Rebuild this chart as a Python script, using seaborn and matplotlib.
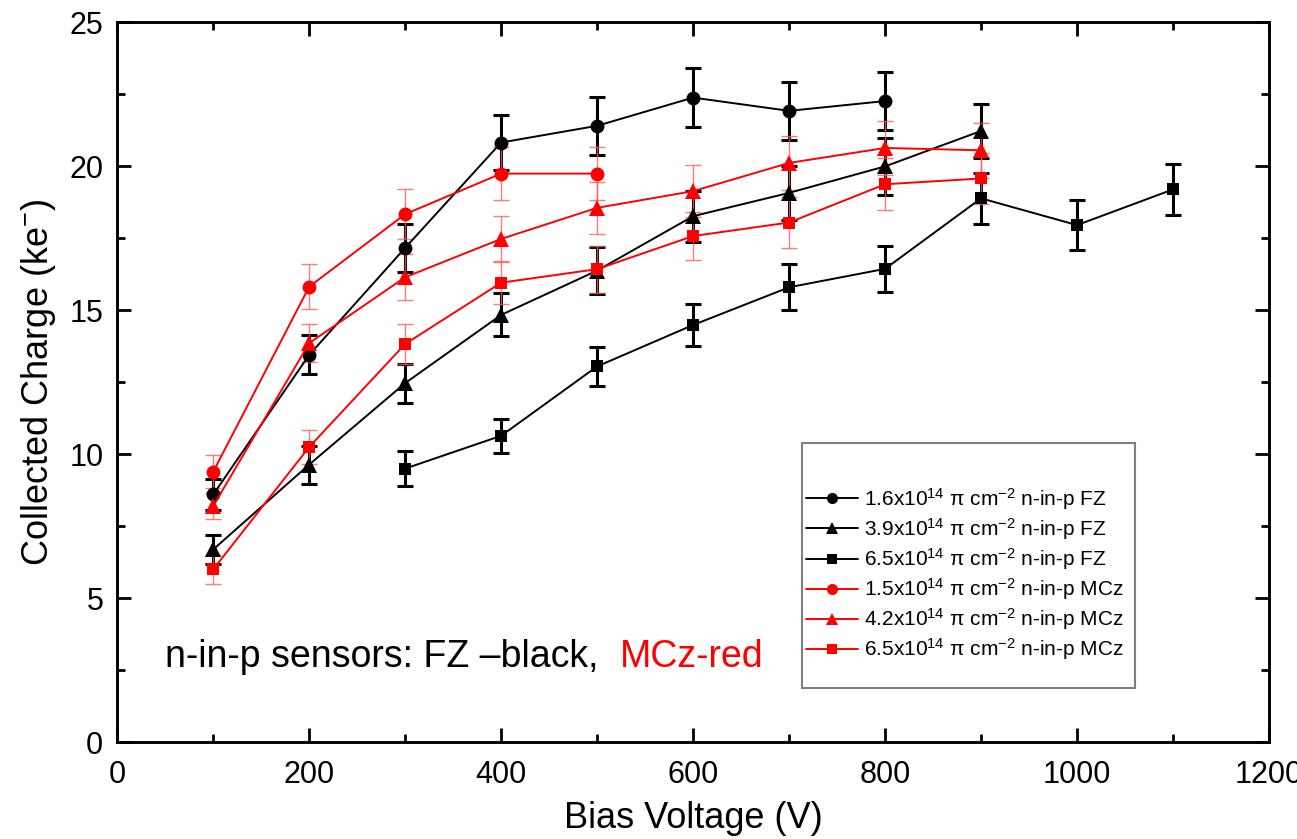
import numpy as np
import pandas as pd
import seaborn as sns
import matplotlib.pyplot as plt
from matplotlib.ticker import MultipleLocator
from matplotlib.patches import Rectangle

# style first, fonts after (set_style resets font.family)
sns.set_style("ticks")
plt.rcParams['font.family'] = ['Liberation Sans', 'DejaVu Sans']
plt.rcParams['mathtext.fontset'] = 'custom'
plt.rcParams['mathtext.rm'] = 'Liberation Sans'
plt.rcParams['mathtext.it'] = 'Liberation Sans:italic'
plt.rcParams['text.color'] = 'black'
plt.rcParams['axes.labelcolor'] = 'black'
plt.rcParams['xtick.color'] = 'black'
plt.rcParams['ytick.color'] = 'black'
plt.rcParams['axes.edgecolor'] = 'black'

# ---- data (bias voltage V, collected charge ke-) ----
volts_fz16 = [100, 200, 300, 400, 500, 600, 700, 800]
charge_fz16 = [8.6, 13.45, 17.17, 20.83, 21.41, 22.39, 21.93, 22.27]
err_fz16 = [0.55, 0.68, 0.83, 0.95, 1.0, 1.02, 1.0, 1.0]

volts_fz39 = [100, 200, 300, 400, 500, 600, 700, 800, 900]
charge_fz39 = [6.69, 9.64, 12.47, 14.84, 16.38, 18.27, 19.08, 20.0, 21.23]
err_fz39 = [0.5, 0.66, 0.68, 0.75, 0.82, 0.88, 0.95, 1.0, 0.95]

volts_fz65 = [300, 400, 500, 600, 700, 800, 900, 1000, 1100]
charge_fz65 = [9.5, 10.64, 13.05, 14.49, 15.8, 16.44, 18.89, 17.96, 19.2]
err_fz65 = [0.6, 0.6, 0.68, 0.74, 0.8, 0.8, 0.88, 0.86, 0.9]

volts_mcz15 = [100, 200, 300, 400, 500]
charge_mcz15 = [9.39, 15.82, 18.34, 19.75, 19.75]
err_mcz15 = [0.57, 0.78, 0.88, 0.93, 0.93]

volts_mcz42 = [100, 200, 300, 400, 500, 600, 700, 800, 900]
charge_mcz42 = [8.2, 13.86, 16.15, 17.48, 18.56, 19.14, 20.12, 20.64, 20.56]
err_mcz42 = [0.45, 0.67, 0.8, 0.8, 0.9, 0.9, 0.95, 0.95, 0.95]

volts_mcz65 = [100, 200, 300, 400, 500, 600, 700, 800, 900]
charge_mcz65 = [6.0, 10.25, 13.83, 15.96, 16.43, 17.58, 18.05, 19.38, 19.58]
err_mcz65 = [0.5, 0.6, 0.7, 0.75, 0.82, 0.84, 0.87, 0.9, 0.9]

labels = [
    '1.6x10$^{14}$ π cm$^{-2}$ n-in-p FZ',
    '3.9x10$^{14}$ π cm$^{-2}$ n-in-p FZ',
    '6.5x10$^{14}$ π cm$^{-2}$ n-in-p FZ',
    '1.5x10$^{14}$ π cm$^{-2}$ n-in-p MCz',
    '4.2x10$^{14}$ π cm$^{-2}$ n-in-p MCz',
    '6.5x10$^{14}$ π cm$^{-2}$ n-in-p MCz',
]
series = [
    (volts_fz16, charge_fz16, err_fz16),
    (volts_fz39, charge_fz39, err_fz39),
    (volts_fz65, charge_fz65, err_fz65),
    (volts_mcz15, charge_mcz15, err_mcz15),
    (volts_mcz42, charge_mcz42, err_mcz42),
    (volts_mcz65, charge_mcz65, err_mcz65),
]
colors = ['black', 'black', 'black', 'red', 'red', 'red']
marks = ['o', '^', 's', 'o', '^', 's']
msizes = {'o': 10, '^': 11.5, 's': 9}

# ---- plot ----
fig = plt.figure(figsize=(12.97, 8.39), dpi=100)
ax = fig.add_axes([0.0904, 0.1156, 0.888, 0.8576])

for (v, c, e), lab, col, mk in zip(series, labels, colors, marks):
    # error bars under the markers
    if col == 'black':
        ax.errorbar(v, c, yerr=e, fmt='none', ecolor='black', elinewidth=2.2,
                    capsize=6, capthick=2.2, zorder=2)
    else:
        ax.errorbar(v, c, yerr=e, fmt='none', ecolor=(1, 0.35, 0.35), elinewidth=1.0,
                    capsize=6, capthick=1.0, zorder=2, alpha=0.8)
    d = pd.DataFrame({'volt': v, 'charge': c})
    sns.lineplot(data=d, x='volt', y='charge', color=col, marker=mk, markersize=msizes[mk],
                 markeredgewidth=0, linewidth=1.4, label=lab, ax=ax, zorder=3)

# axes cosmetics
ax.set_xlim(0, 1200)
ax.set_ylim(0, 25)
ax.xaxis.set_major_locator(MultipleLocator(200))
ax.xaxis.set_minor_locator(MultipleLocator(100))
ax.yaxis.set_major_locator(MultipleLocator(5))
ax.yaxis.set_minor_locator(MultipleLocator(2.5))
ax.tick_params(which='both', direction='in', top=True, right=True, width=2, labelsize=22)
ax.tick_params(axis='y', pad=10)
ax.tick_params(axis='x', pad=13)
ax.tick_params(which='major', length=10)
ax.tick_params(which='minor', length=6)
for s in ax.spines.values():
    s.set_linewidth(2.1)
ax.set_xlabel('Bias Voltage (V)', fontsize=26, labelpad=8)
ax.set_ylabel('Collected Charge (ke$^{-}$)', fontsize=26, labelpad=8)

# legend: frameless, box drawn separately so the empty top band matches
handles, labs = ax.get_legend_handles_labels()
leg = ax.legend(handles, labs, loc='upper left', bbox_to_anchor=(806 / 1297, 1 - 486 / 839),
                bbox_transform=fig.transFigure, fontsize=15, frameon=False,
                borderpad=0, borderaxespad=0, handlelength=2.5, handletextpad=0.3,
                labelspacing=0.2)
for h in leg.legend_handles:
    h.set_markersize(h.get_markersize() * 0.8)
fig.patches.append(Rectangle((802 / 1297, 1 - 688 / 839), 333 / 1297, 245 / 839,
                             transform=fig.transFigure, fill=False,
                             edgecolor='#7f7f7f', linewidth=1.5))

# two-colour note
t1 = ax.text(50, 2.6, 'n-in-p sensors: FZ \u2013black,  ', fontsize=27, color='black')
ax.annotate('MCz-red', xy=(1, 0), xycoords=t1, fontsize=27, color='red', va='bottom')

fig.savefig('out.png', dpi=100)
